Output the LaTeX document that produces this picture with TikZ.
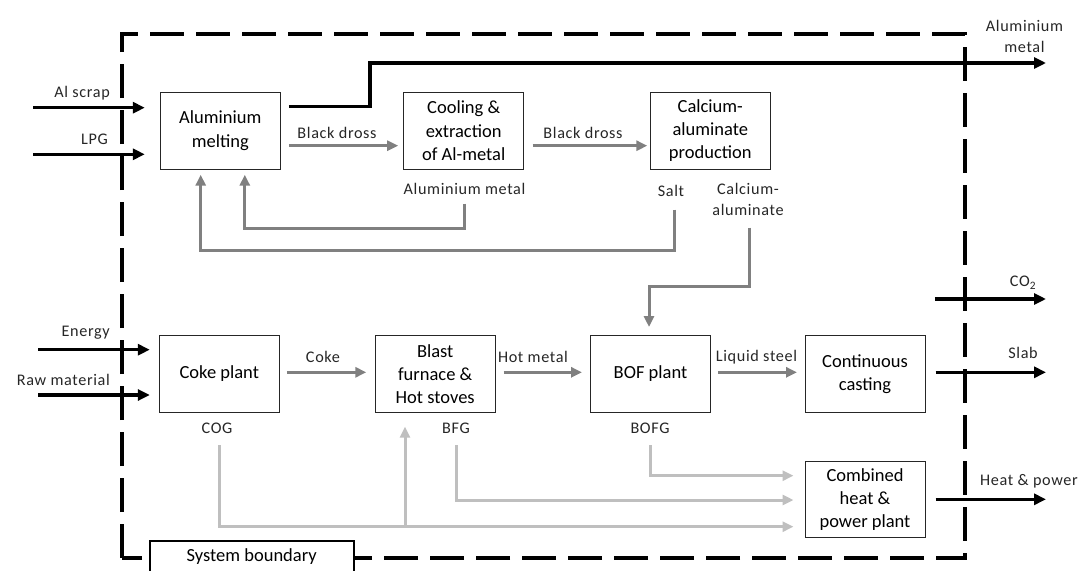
\documentclass[tikz,border=0pt]{standalone}
\usepackage{fontspec}
\setmainfont{Carlito}
\newfontfamily\lblfont[LetterSpace=4]{Carlito}
\usetikzlibrary{arrows.meta,calc}
\definecolor{midgray}{HTML}{808080}
\definecolor{lightgray}{HTML}{BFBFBF}
\definecolor{txt}{HTML}{262626}
\begin{document}
\begin{tikzpicture}[x=1pt,y=-1pt,
  procbox/.style={draw=black!85, line width=1pt, minimum width=120pt, minimum height=77pt, align=center, font=\fontsize{18.5}{23.3}\selectfont, inner sep=1pt},
  lbl/.style={font=\lblfont\fontsize{16.2}{21}\selectfont, text=txt, inner sep=0pt, align=center},
  blk/.style={line width=3.5pt, -{Triangle[length=12pt,width=11pt]}},
  gry/.style={draw=midgray, line width=3pt, -{Triangle[length=11pt,width=10pt]}},
  lgry/.style={draw=lightgray, line width=3pt, -{Triangle[length=11pt,width=10pt]}},
  boundary/.style={line width=3.5pt, dash pattern=on 34pt off 12pt}
]
\useasboundingbox (0,0) rectangle (1081,570);
\clip (0,0) rectangle (1081,570);

% system boundary
\draw[boundary] (122,558) -- (122,34) -- (965,34) -- (965,558) -- (122,558);

% process boxes
\node[procbox] (melt)  at (220.3,130.7) {Aluminium\\melting};
\node[procbox] (cool)  at (463.7,130.7) {Cooling \&\\extraction\\of Al-metal};
\node[procbox] (calal) at (710.3,130.7) {Calcium-\\aluminate\\production};
\node[procbox] (coke)  at (219.3,374) {Coke plant};
\node[procbox] (bf)    at (435.2,374) {Blast\\furnace \&\\Hot stoves};
\node[procbox] (bof)   at (650.5,374) {BOF plant};
\node[procbox] (cc)    at (865,374) {Continuous\\casting};
\node[procbox, minimum height=76pt] (chp) at (865,499.7) {Combined\\heat \&\\power plant};

% system boundary label box
\node[draw, line width=2pt, fill=white, minimum width=204pt, minimum height=40pt, anchor=north west, inner sep=0pt] (sb) at (149,540) {};
\node[font=\fontsize{18.5}{23}\selectfont, inner sep=0pt] (sbl) at (251.7,557) {System boundary};

% free ends
\coordinate (alin)  at (33,107.7);
\coordinate (lpgin) at (33,154.3);
\coordinate (enin)  at (38,349.7);
\coordinate (rawin) at (38,395);
\coordinate (alout) at (1046,63);
\coordinate (co2a)  at (934.8,299);
\coordinate (co2b)  at (1046,299);
\coordinate (slab)  at (1046,372.3);
\coordinate (hp)    at (1046,499.3);

% inputs
\draw[blk] (alin) -- ($(alin -| melt.west)+(-15,0)$);
\draw[blk] (lpgin) -- ($(lpgin -| melt.west)+(-15,0)$);
\draw[blk] (enin) -- ($(enin -| coke.west)+(-9,0)$);
\draw[blk] (rawin) -- ($(rawin -| coke.west)+(-9,0)$);

% aluminium metal out
\draw[blk] ($(melt.east)+(8,-24)$) -- ++(81,0) |- (alout);

% outputs
\draw[blk] (co2a) -- (co2b);
\draw[blk] ($(cc.east)+(10,-1.7)$) -- (slab);
\draw[blk] ($(chp.east)+(10,-0.4)$) -- (hp);

% aluminium chain
\draw[gry] ($(melt.east)+(8,15)$) -- ($(cool.west)+(-5,15)$);
\draw[gry] ($(cool.east)+(8.5,15)$) -- ($(calal.west)+(-2.5,15)$);
\draw[gry] ($(cool.south)+(0.8,34)$) -- ++(0,24.7) -| ($(melt.south)+(24.5,5)$);
\draw[gry] ($(calal.south)+(-35.8,40)$) -- ++(0,41) -| ($(melt.south)+(-19.6,5)$);
\draw[gry] ($(calal.south)+(38.7,58)$) -- ++(0,59) -| ($(bof.north)+(-1.5,-8)$);

% steel chain
\draw[gry] ($(coke.east)+(7,-1.7)$) -- ($(bf.west)+(-8.4,-1.7)$);
\draw[gry] ($(bf.east)+(8,-1.7)$) -- ($(bof.west)+(-8,-1.7)$);
\draw[gry] ($(bof.east)+(7,-1.7)$) -- ($(cc.west)+(-7.5,-1.7)$);

% gases
\draw[lgry] ($(coke.south)+(-0.3,32)$) |- ($(chp.west)+(-11,27)$);
\draw[lgry] (405,526.7) -- ($(bf.south)+(-30.2,13.7)$);
\draw[lgry] ($(bf.south)+(20.8,32)$) |- ($(chp.west)+(-11,0.3)$);
\draw[lgry] ($(bof.south)+(-0.5,32)$) |- ($(chp.west)+(-11,-24)$);

% labels
\node[lbl, anchor=east] (l1) at (110,93) {Al scrap};
\node[lbl, anchor=east] (l2) at (108,139) {LPG};
\node[lbl, anchor=east] (l3) at (110,333) {Energy};
\node[lbl, anchor=east] (l4) at (110,380) {Raw material};
\node[lbl] (l5) at (337,132.7) {Black dross};
\node[lbl] (l6) at (583,133) {Black dross};
\node[lbl] (l7) at (464.5,189) {Aluminium metal};
\node[lbl] (l8) at (671,190.7) {Salt};
\node[lbl] (l9) at (748,199.5) {Calcium-\\aluminate};
\node[lbl] (l10) at (323,357) {Coke};
\node[lbl] (l11) at (533,357) {Hot metal};
\node[lbl] (l12) at (756.5,357) {Liquid steel};
\node[lbl] (l13) at (217,428) {COG};
\node[lbl] (l14) at (456,428) {BFG};
\node[lbl] (l15) at (650,428) {BOFG};
\node[lbl] (l16) at (1024.5,36) {Aluminium\\metal};
\node[lbl] (l17) at (1023,283) {CO\textsubscript{2}};
\node[lbl] (l18) at (1023,353) {Slab};
\node[lbl, anchor=west] (l19) at (980,481) {Heat \& power};
\end{tikzpicture}
\end{document}
